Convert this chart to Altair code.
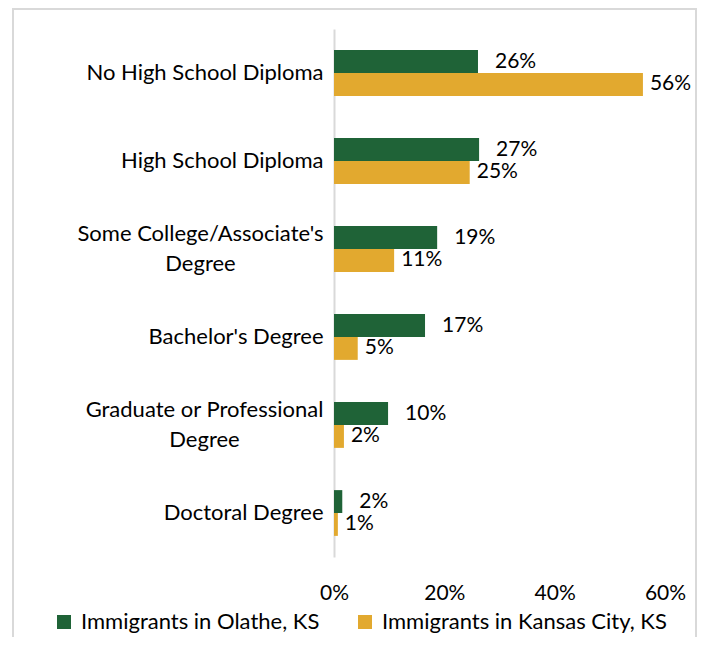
import altair as alt
import pandas as pd

categories = [
    "No High School Diploma",
    "High School Diploma",
    "Some College/Associate's|Degree",
    "Bachelor's Degree",
    "Graduate or Professional|Degree",
    "Doctoral Degree",
]
series = ["Immigrants in Olathe, KS", "Immigrants in Kansas City, KS"]
olathe_values = [26.1, 26.3, 18.7, 16.5, 9.8, 1.5]
kck_values = [56.0, 24.6, 10.9, 4.3, 1.8, 0.7]
olathe_labels = ["26%", "27%", "19%", "17%", "10%", "2%"]
kck_labels = ["56%", "25%", "11%", "5%", "2%", "1%"]
colors = ["#1f6337", "#e2a92f"]
x_ticks = [0, 20, 40, 60]

rows = []
for i, c in enumerate(categories):
    rows.append({"category": c, "series": series[0], "value": olathe_values[i], "label": olathe_labels[i]})
    rows.append({"category": c, "series": series[1], "value": kck_values[i], "label": kck_labels[i]})
df = pd.DataFrame(rows)

FONT = "Lato"
FS = 21
FS_CAT = 22

y_enc = alt.Y(
    "category:N",
    sort=categories,
    scale=alt.Scale(paddingInner=0.48, paddingOuter=0.24),
    axis=alt.Axis(
        title=None,
        labelExpr="split(datum.label, '|')",
        labelFont=FONT,
        labelFontSize=FS_CAT,
        labelColor="#000000",
        labelAlign={"condition": {"test": "indexof(datum.value, '|') >= 0", "value": "center"}, "value": "right"},
        labelPadding={
            "condition": [
                {"test": "indexof(datum.value, 'Associate') >= 0", "value": 134},
                {"test": "indexof(datum.value, 'Graduate') >= 0", "value": 130},
            ],
            "value": 11,
        },
        labelLineHeight=30,
        labelLimit=400,
        labelOffset={"condition": {"test": "indexof(datum.value, '|') >= 0", "value": -15}, "value": 0},
        ticks=False,
        domainColor="#d9d9d9",
        domainWidth=2,
        grid=False,
    ),
)
x_enc = alt.X(
    "value:Q",
    scale=alt.Scale(domain=[0, 60]),
    axis=alt.Axis(
        title=None,
        values=x_ticks,
        labelExpr="datum.value + '%'",
        labelFlush=False,
        grid=False,
        domain=False,
        ticks=False,
        labelFont=FONT,
        labelFontSize=FS,
        labelColor="#000000",
        labelPadding=25,
    ),
)
yoff = alt.YOffset("series:N", sort=series, scale=alt.Scale(domain=series))

base = alt.Chart(df)

bars = base.mark_bar().encode(
    y=y_enc,
    x=x_enc,
    yOffset=yoff,
    color=alt.Color(
        "series:N",
        sort=series,
        scale=alt.Scale(domain=series, range=colors),
        legend=alt.Legend(
            title=None,
            orient="none",
            direction="horizontal",
            legendX=-281,
            legendY=582,
            symbolType="square",
            symbolSize=196,
            symbolStrokeWidth=0,
            symbolOpacity=1,
            labelFont=FONT,
            labelFontSize=FS_CAT,
            labelColor="#000000",
            labelOffset=6,
            labelLimit=400,
            columnPadding=34,
            padding=0,
        ),
    ),
)

text_green = base.transform_filter(alt.datum.series == series[0]).mark_text(
    align="left", baseline="middle", font=FONT, fontSize=FS, color="#000000", dx=17
).encode(y=y_enc, x=x_enc, yOffset=yoff, text="label:N")

text_gold = base.transform_filter(alt.datum.series == series[1]).mark_text(
    align="left", baseline="middle", font=FONT, fontSize=FS, color="#000000", dx=7
).encode(y=y_enc, x=x_enc, yOffset=yoff, text="label:N")

border = alt.Chart(pd.DataFrame({"a": [0]})).mark_rect(
    fill="transparent", stroke="#d9d9d9", strokeWidth=2
).encode(x=alt.value(-321), x2=alt.value(362), y=alt.value(-20), y2=alt.value(660))

chart = alt.layer(border, bars, text_green, text_gold).properties(
    width=331,
    height=528,
    autosize=alt.AutoSizeParams(type="none"),
    padding={"left": 326, "top": 21, "right": 32, "bottom": 80},
).configure_view(stroke=None)

chart.save("out.html", embed_options={"renderer": "svg", "actions": False})
